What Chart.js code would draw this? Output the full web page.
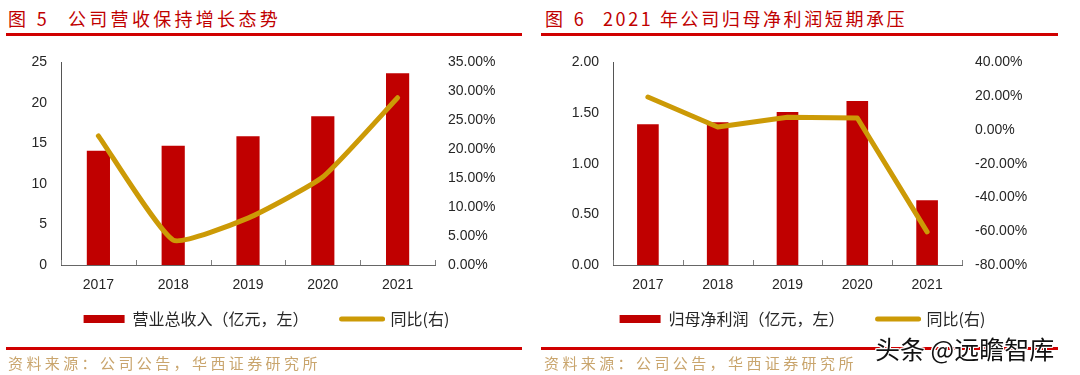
<html>
<head>
<meta charset="utf-8">
<script src="https://cdn.jsdelivr.net/npm/chart.js@4.4.0/dist/chart.umd.min.js"></script>
<style>
  body { margin: 0; width: 1080px; height: 375px; background: #fff; position: relative; overflow: hidden; font-family: "Noto Sans CJK SC", sans-serif; }
  .title { position: absolute; top: 7px; font-size: 18px; line-height: 22px; color: #c00000; white-space: nowrap; letter-spacing: 3.3px; }
  .rule { position: absolute; height: 3px; background: #d00000; }
  .source { position: absolute; top: 353px; font-size: 15px; line-height: 19px; color: #c9a56d; letter-spacing: 3.4px; white-space: nowrap; }
  .mark { position: absolute; left: 875px; top: 333px; font-size: 25px; line-height: 30px; color: #111; white-space: nowrap;
          text-shadow: 1px 0 #fff, -1px 0 #fff, 0 1px #fff, 0 -1px #fff, 1px 1px #fff, -1px -1px #fff, 1px -1px #fff, -1px 1px #fff; }
  canvas { position: absolute; top: 40px; }
</style>
</head>
<body>
  <div class="title" style="left:8px">图 5</div>
  <div class="title" style="left:68px">公司营收保持增长态势</div>
  <div class="rule" style="left:6px; width:516px; top:33px"></div>

  <div class="title" style="left:545px">图 6</div>
  <div class="title" style="left:603px; letter-spacing:2.6px">2021 年公司归母净利润短期承压</div>
  <div class="rule" style="left:541px; width:517px; top:33px"></div>

  <canvas id="revenueChart" width="540" height="325" style="left:0px"></canvas>
  <canvas id="profitChart" width="540" height="325" style="left:540px"></canvas>

  <div class="rule" style="left:6px; width:516px; top:347px"></div>
  <div class="rule" style="left:541px; width:517px; top:347px"></div>
  <div class="source" style="left:8px">资料来源：公司公告，华西证券研究所</div>
  <div class="source" style="left:544px">资料来源：公司公告，华西证券研究所</div>
  <div class="mark">头条 @远瞻智库</div>

<script>
  // data
  var years = ["2017", "2018", "2019", "2020", "2021"];

  var revenue = [14.1, 14.7, 15.9, 18.35, 23.65];     // 亿元
  var revenueYoy = [22.3, 4.3, 8.1, 15.2, 28.9];      // %

  var profit = [1.39, 1.41, 1.51, 1.62, 0.64];        // 亿元
  var profitYoy = [19.5, 1.7, 7.5, 7.1, -60.4];       // %

  var barRed = "#c00000";
  var lineGold = "#cc9a06";

  Chart.defaults.font.family = "'Liberation Sans', Arial, sans-serif";
  Chart.defaults.font.size = 14;
  Chart.defaults.color = "#262626";

  // little upward tick marks between the categories on the x axis
  var xTicks = {
    id: "xTicks",
    afterDatasetsDraw: function(chart) {
      var x = chart.scales.x, ctx = chart.ctx;
      ctx.save();
      ctx.strokeStyle = "#808080";
      ctx.lineWidth = 1;
      for (var i = 0; i <= years.length; i++) {
        var px = Math.round(x.getPixelForValue(i - 0.5)) + 0.5;
        ctx.beginPath();
        ctx.moveTo(px, x.top);
        ctx.lineTo(px, x.top - 5);
        ctx.stroke();
      }
      ctx.restore();
    }
  };

  // pull the legend up closer to the axis labels (padding is also the item gap)
  var legendUp = {
    id: "legendUp",
    afterLayout: function(chart) {
      chart.legend.top -= 25;
      chart.legend.bottom -= 25;
    }
  };

  function makeChart(id, bars, barLabel, yoy, opt) {
    var canvas = document.getElementById(id);
    return new Chart(canvas, {
      type: "bar",
      data: {
        labels: years,
        datasets: [
          {
            type: "line",
            label: "同比(右)",
            data: yoy,
            yAxisID: "y1",
            borderColor: lineGold,
            backgroundColor: lineGold,
            borderWidth: 5,
            borderCapStyle: "round",
            borderJoinStyle: "round",
            tension: opt.tension,
            pointRadius: 0
          },
          {
            type: "bar",
            label: barLabel,
            data: bars,
            yAxisID: "y",
            backgroundColor: barRed,
            barPercentage: 0.31,
            categoryPercentage: 1
          }
        ]
      },
      options: {
        responsive: false,
        animation: false,
        layout: { padding: { top: 4, left: 0, right: opt.padRight, bottom: 3 } },
        plugins: {
          tooltip: { enabled: false },
          legend: {
            position: "bottom",
            labels: {
              usePointStyle: true,
              pointStyleWidth: 41,
              boxHeight: 8,
              padding: 33,
              color: "#262626",
              font: { family: "'Noto Sans CJK SC', sans-serif", size: 16 },
              sort: function(a, b) { return b.datasetIndex - a.datasetIndex; },
              generateLabels: function(chart) {
                var items = Chart.defaults.plugins.legend.labels.generateLabels(chart);
                items.forEach(function(it) {
                  if (it.datasetIndex === 0) {
                    it.pointStyle = "line";
                    it.strokeStyle = lineGold;
                    it.lineWidth = 5;
                    it.lineCap = "round";
                  } else {
                    it.pointStyle = "rect";
                    it.fillStyle = barRed;
                    it.lineWidth = 0;
                  }
                });
                return items;
              }
            }
          }
        },
        scales: {
          x: {
            grid: { display: false, drawTicks: false },
            border: { display: true, color: "#666" },
            ticks: { padding: 12, maxRotation: 0, autoSkip: false },
            afterFit: function(s) { s.height = 38; }
          },
          y: {
            position: "left",
            min: 0, max: opt.yMax,
            ticks: {
              stepSize: opt.yStep, padding: 14,
              callback: function(v) { return opt.yDec ? v.toFixed(opt.yDec) : v; }
            },
            grid: { display: false, drawTicks: false },
            border: { display: true, color: "#555" },
            afterFit: function(s) { s.width = opt.leftW; }
          },
          y1: {
            position: "right",
            min: opt.pMin, max: opt.pMax,
            ticks: {
              stepSize: opt.pStep, padding: 13,
              callback: function(v) { return v.toFixed(2) + "%"; }
            },
            grid: { display: false, drawTicks: false },
            border: { display: false },
            afterFit: function(s) { s.width = opt.rightW; }
          }
        }
      },
      plugins: [xTicks, legendUp]
    });
  }

  makeChart("revenueChart", revenue, "营业总收入（亿元，左）", revenueYoy, {
    tension: 0.15, yMax: 25, yStep: 5, yDec: 0, pMin: 0, pMax: 35, pStep: 5,
    leftW: 61, rightW: 98, padRight: 7
  });

  makeChart("profitChart", profit, "归母净利润（亿元，左）", profitYoy, {
    tension: 0, yMax: 2, yStep: 0.5, yDec: 2, pMin: -80, pMax: 40, pStep: 20,
    leftW: 73, rightW: 103, padRight: 15
  });
</script>
</body>
</html>
